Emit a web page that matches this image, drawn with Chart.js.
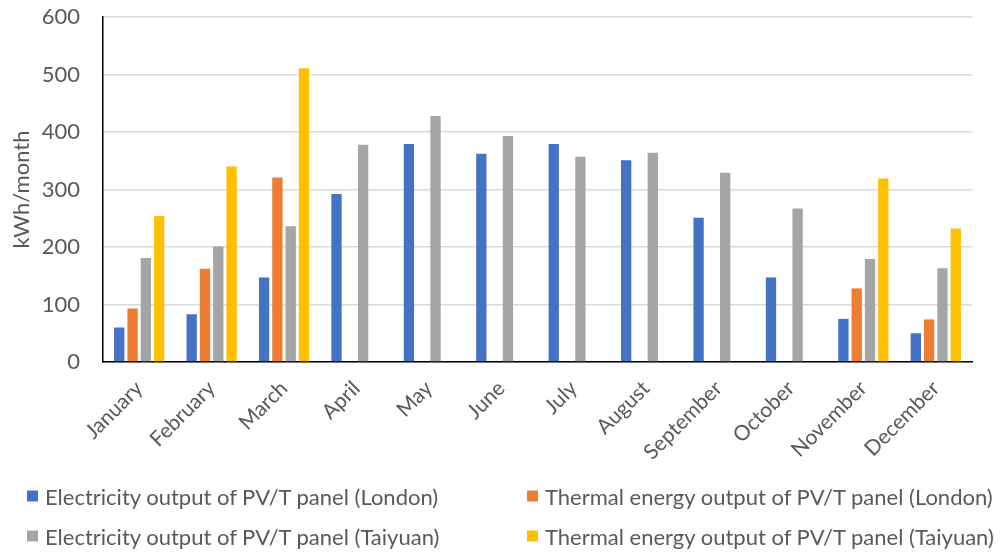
<!DOCTYPE html>
<html>
<head>
<meta charset="utf-8">
<script src="https://cdn.jsdelivr.net/npm/chart.js@4"></script>
<style>
  html, body { margin: 0; padding: 0; background: #fff; }
  #wrap { position: relative; width: 1008px; height: 553px; }
  #chart { position: absolute; left: 0; top: 0; }
  .lg-item { position: absolute; display: flex; align-items: center; font-family: Lato, "Open Sans", sans-serif; font-size: 22px; color: #595959; white-space: nowrap; transform: translateY(-50%); }
  .lg-box { width: 11px; height: 11px; margin-right: 7px; }
</style>
</head>
<body>
<div id="wrap">
  <canvas id="chart" width="1008" height="553"></canvas>
  <div id="legend"></div>
</div>
<script>
// Months along the category axis
const months = ['January', 'February', 'March', 'April', 'May', 'June', 'July', 'August', 'September', 'October', 'November', 'December'];

// Monthly output in kWh/month (null = no value for that month)
const elecLondon = [60, 83, 147, 292, 379, 362, 379, 351, 251, 147, 75, 50];
const thermLondon = [93, 162, 321, null, null, null, null, null, null, null, 128, 74];
const elecTaiyuan = [181, 201, 236, 378, 428, 393, 357, 364, 329, 267, 179, 163];
const thermTaiyuan = [254, 340, 511, null, null, null, null, null, null, null, 319, 232];

const seriesNames = [
  'Electricity output of PV/T panel (London)',
  'Thermal energy output of PV/T panel (London)',
  'Electricity output of PV/T panel (Taiyuan)',
  'Thermal energy output of PV/T panel (Taiyuan)'
];
const seriesColors = ['#4472C4', '#ED7D31', '#A5A5A5', '#FFC000'];

// Value-axis ticks
const yTicks = [0, 100, 200, 300, 400, 500, 600];

const seriesData = [elecLondon, thermLondon, elecTaiyuan, thermTaiyuan];
const datasets = seriesData.map((d, i) => ({
  label: seriesNames[i],
  data: d,
  backgroundColor: seriesColors[i],
  borderWidth: 0,
  categoryPercentage: 0.735,
  barPercentage: 0.775
}));

const FONT = 'Lato, "Open Sans", sans-serif';
const GREY_TEXT = '#595959';

const chart = new Chart(document.getElementById('chart'), {
  type: 'bar',
  data: { labels: months, datasets },
  options: {
    responsive: false,
    animation: false,
    layout: { padding: { top: 0, right: 36, bottom: 83, left: 0 } },
    plugins: {
      legend: { display: false },
      tooltip: { enabled: false }
    },
    scales: {
      x: {
        grid: { display: false, drawTicks: false },
        border: { display: true, color: '#000000', width: 1.5 },
        ticks: {
          color: GREY_TEXT,
          font: { family: FONT, size: 21 },
          maxRotation: 45,
          minRotation: 45,
          padding: 14,
          autoSkip: false
        },
        afterFit: s => { s.height = 108; }
      },
      y: {
        min: yTicks[0],
        max: yTicks[yTicks.length - 1],
        afterBuildTicks: s => { s.ticks = yTicks.map(v => ({ value: v })); },
        grid: { color: '#d9d9d9', lineWidth: 1.5, drawTicks: false },
        border: { display: true, color: '#000000', width: 1.5 },
        ticks: {
          color: GREY_TEXT,
          font: { family: FONT, size: 22 },
          padding: 23
        },
        title: {
          display: true,
          text: 'kWh/month',
          color: GREY_TEXT,
          font: { family: FONT, size: 22 },
          padding: { top: 9, bottom: 0 }
        },
        afterFit: s => {
          s.width = 103;
          s.paddingTop = 17;
          s.paddingBottom = 0;
        }
      }
    }
  }
});

// Two-column legend below the plot, built from the chart's datasets
const legendPos = [[27, 496], [527, 496], [27, 536], [527, 536]];
const legendEl = document.getElementById('legend');
chart.data.datasets.forEach((ds, i) => {
  const item = document.createElement('div');
  item.className = 'lg-item';
  item.style.left = legendPos[i][0] + 'px';
  item.style.top = legendPos[i][1] + 'px';
  const box = document.createElement('span');
  box.className = 'lg-box';
  box.style.background = ds.backgroundColor;
  const txt = document.createElement('span');
  txt.textContent = ds.label;
  item.appendChild(box);
  item.appendChild(txt);
  legendEl.appendChild(item);
});
</script>
</body>
</html>
